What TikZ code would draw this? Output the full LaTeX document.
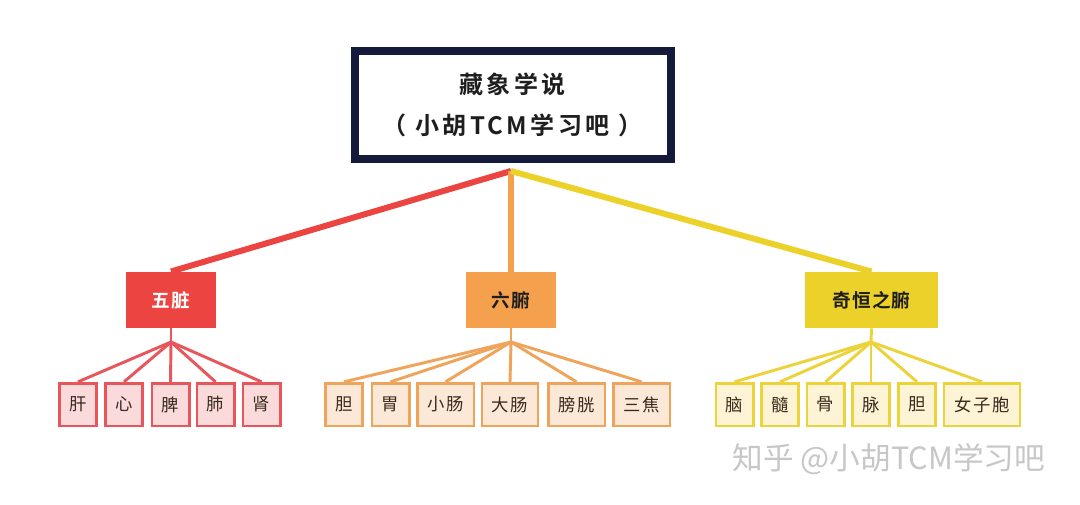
\documentclass[tikz,border=0pt]{standalone}
\usepackage{fontspec}
\setmainfont{Noto Sans CJK SC}
\newfontfamily\cjkb[LetterSpace=14]{Noto Sans CJK SC Bold}
\newfontfamily\cjkmb[LetterSpace=6]{Noto Sans CJK SC Bold}
\newfontfamily\cjkk[LetterSpace=8]{Noto Sans CJK SC}
\begin{document}
\begin{tikzpicture}[x=0.75pt,y=-0.75pt,
  rootbox/.style={draw=navy,line width=6pt,fill=white,minimum width=237pt,minimum height=81pt,inner sep=0pt,align=center,font=\cjkb\fontsize{18}{31}\selectfont,text=textdark},
  midbox/.style={inner sep=0pt,minimum height=41.5pt,font=\cjkmb\fontsize{14}{16}\selectfont,line width=1.2pt},
  kidbox/.style={inner sep=0pt,minimum height=32pt,font=\cjkk\fontsize{13}{15}\selectfont,line width=2pt,text=textbrown},
  link/.style={line width=2.2pt},
  trunk/.style={line width=4.5pt}]
\definecolor{navy}{HTML}{141A3A}
\definecolor{textdark}{HTML}{1E1E1E}
\definecolor{textbrown}{HTML}{3A2A1E}
\definecolor{redM}{HTML}{EC4440}
\definecolor{redL}{HTML}{FADADA}
\definecolor{redB}{HTML}{E8555A}
\definecolor{orM}{HTML}{F4A04C}
\definecolor{orL}{HTML}{FCE8D6}
\definecolor{orB}{HTML}{F0A35A}
\definecolor{yeM}{HTML}{EDD12B}
\definecolor{yeL}{HTML}{FCF4D4}
\definecolor{yeB}{HTML}{EDD33A}
\useasboundingbox[fill=white] (0,0) rectangle (1080,504);

% coordinates
\coordinate (top) at (511,171);
\coordinate (jr) at (171,342);
\coordinate (jo) at (511,342);
\coordinate (jy) at (871,342);

% middle boxes
\node[midbox,fill=redM,draw=redM,minimum width=66pt,text=white] (wz) at (171,300) {五脏};
\node[midbox,fill=orM,draw=orM,minimum width=66pt,text=textdark] (lf) at (511,300) {六腑};
\node[midbox,fill=yeM,draw=yeM,minimum width=98pt,text=textdark] (qh) at (871.5,300) {奇恒之腑};

% trunks
\draw[trunk,redM] (top) -- (wz.north);
\draw[trunk,orM] (top) -- (lf.north);
\draw[trunk,yeM] (top) -- (qh.north);

% root
\node[rootbox] (root) at (512.5,105) {藏象学说\\（ 小胡TCM学习吧 ）};

% children red
\begin{scope}[every node/.style={kidbox,fill=redL,draw=redB,minimum width=28pt}]
\node (r1) at (78,404.5) {肝};
\node (r2) at (124,404.5) {心};
\node (r3) at (170.5,404.5) {脾};
\node (r4) at (215.5,404.5) {肺};
\node (r5) at (261.5,404.5) {肾};
\end{scope}
% children orange
\begin{scope}[every node/.style={kidbox,fill=orL,draw=orB}]
\node[minimum width=28pt] (o1) at (344,404.5) {胆};
\node[minimum width=28pt] (o2) at (390.5,404.5) {胃};
\node[minimum width=42.5pt] (o3) at (445.5,404.5) {小肠};
\node[minimum width=42pt] (o4) at (510,404.5) {大肠};
\node[minimum width=42.5pt] (o5) at (576.5,404.5) {膀胱};
\node[minimum width=42.5pt] (o6) at (641.5,404.5) {三焦};
\end{scope}
% children yellow
\begin{scope}[every node/.style={kidbox,fill=yeL,draw=yeB}]
\node[minimum width=28pt] (y1) at (734.5,404.5) {脑};
\node[minimum width=28pt] (y2) at (780,404.5) {髓};
\node[minimum width=28pt] (y3) at (825.5,404.5) {骨};
\node[minimum width=28pt] (y4) at (871,404.5) {脉};
\node[minimum width=28pt] (y5) at (917,404.5) {胆};
\node[minimum width=57pt] (y6) at (982,404.5) {女子胞};
\end{scope}

% links
\draw[link,redB] (wz.south) -- (jr);
\foreach \c in {r1,r2,r3,r4,r5} \draw[link,redB] (jr) -- (\c.north);
\draw[link,orB] (lf.south) -- (jo);
\foreach \c in {o1,o2,o3,o4,o5,o6} \draw[link,orB] (jo) -- (\c.north);
\draw[link,yeB] (qh.south) -- (jy);
\foreach \c in {y1,y2,y3,y4,y5,y6} \draw[link,yeB] (jy) -- (\c.north);

% watermark
\node[text=black!22,font=\fontsize{23}{26}\selectfont,anchor=center] (wm) at (889,459) {知乎 @小胡TCM学习吧};
\end{tikzpicture}
\end{document}
